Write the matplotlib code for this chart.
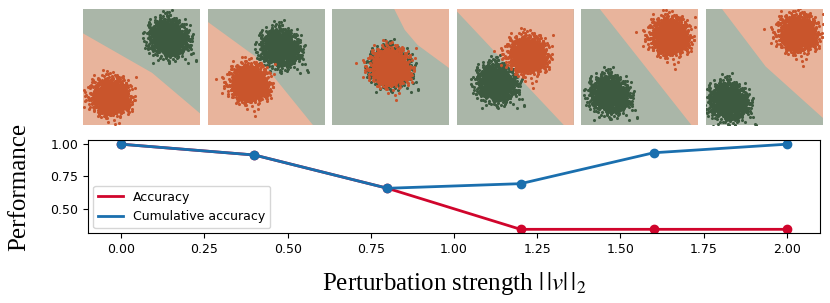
import numpy as np
import matplotlib
matplotlib.use("Agg")
import matplotlib.pyplot as plt
from matplotlib.lines import Line2D

# ================== DATA ==================
strength = [0.0, 0.4, 0.8, 1.2, 1.6, 2.0]
accuracy = [0.995, 0.913, 0.66, 0.348, 0.348, 0.348]
cum_accuracy = [0.995, 0.913, 0.66, 0.695, 0.93, 0.995]

# cluster centres per panel (panel units 0..1)
orange_centres = [(0.24, 0.245), (0.36, 0.36), (0.5, 0.5), (0.61, 0.605), (0.76, 0.765), (0.79, 0.79)]
green_centres = [(0.73, 0.75), (0.62, 0.66), (0.5, 0.5), (0.34, 0.36), (0.24, 0.26), (0.19, 0.2)]

# orange decision region outline per panel
orange_regions = [
    [(0, 0), (0, 0.79), (0.59, 0.45), (1, 0.1), (1, 0)],
    [(0, 0), (0, 0.89), (0.45, 0.56), (0.9, 0)],
    [(0.53, 1), (0.62, 0.82), (0.73, 0.69), (1, 0.49), (1, 1)],
    [(0, 1), (0, 0.98), (0.914, 0), (1, 0), (1, 1)],
    [(0.157, 1), (0.94, 0), (1, 0), (1, 1)],
    [(0.137, 1), (0.51, 0.504), (1, 0.06), (1, 1)],
]
# ==========================================

ORANGE_BG = "#e8b49c"
GREEN_BG = "#aab6a8"
ORANGE_PT = "#c9552c"
GREEN_PT = "#3d5a40"
RED = "#d0052c"
BLUE = "#1a6fae"

plt.rcParams["mathtext.fontset"] = "stix"

fig = plt.figure(figsize=(8.3, 3.03), dpi=100)
W, H = 830, 303

# ---------- top panels ----------
rng = np.random.default_rng(0)
cloud_o = rng.normal(0, 0.075, size=(1500, 2))
cloud_g = rng.normal(0, 0.075, size=(1500, 2))

for i in range(6):
    left = 83 + 124.6 * i
    ax = fig.add_axes([left / W, 1 - 125 / H, 117 / W, 116 / H])
    ax.set_facecolor(GREEN_BG)
    poly = np.array(orange_regions[i])
    ax.fill(poly[:, 0], poly[:, 1], color=ORANGE_BG, lw=0)
    gx, gy = green_centres[i]
    ox, oy = orange_centres[i]
    ax.scatter(cloud_g[:, 0] + gx, cloud_g[:, 1] + gy, s=5, color=GREEN_PT, lw=0)
    ax.scatter(cloud_o[:, 0] + ox, cloud_o[:, 1] + oy, s=5, color=ORANGE_PT, lw=0)
    ax.set_xlim(0, 1)
    ax.set_ylim(0, 1)
    ax.set_xticks([])
    ax.set_yticks([])
    for s in ax.spines.values():
        s.set_visible(False)

# ---------- performance plot ----------
ax = fig.add_axes([88 / W, 1 - 233 / H, 732 / W, 93 / H])
ax.plot(strength, accuracy, color=RED, lw=2, marker="o", ms=6)
ax.plot(strength, cum_accuracy, color=BLUE, lw=2, marker="o", ms=6)
ax.set_xlim(-0.1, 2.1)
ax.set_ylim(0.32, 1.027)
ax.set_yticks([0.5, 0.75, 1.0])
ax.set_xticks([0, 0.25, 0.5, 0.75, 1.0, 1.25, 1.5, 1.75, 2.0])
ax.tick_params(labelsize=9)
handles = [Line2D([], [], color=RED, lw=2), Line2D([], [], color=BLUE, lw=2)]
ax.legend(handles, ["Accuracy", "Cumulative accuracy"], loc="lower left",
          fontsize=9, borderaxespad=0.4)

ax.set_ylabel("Performance", family="Liberation Serif", fontsize=18)
ax.set_xlabel(r"Perturbation strength $|\,|v|\,|_2$", family="Liberation Serif",
              fontsize=18, labelpad=10.5)
ax.yaxis.set_label_coords(-0.079, 0.5)

fig.savefig("out.png", dpi=100)
